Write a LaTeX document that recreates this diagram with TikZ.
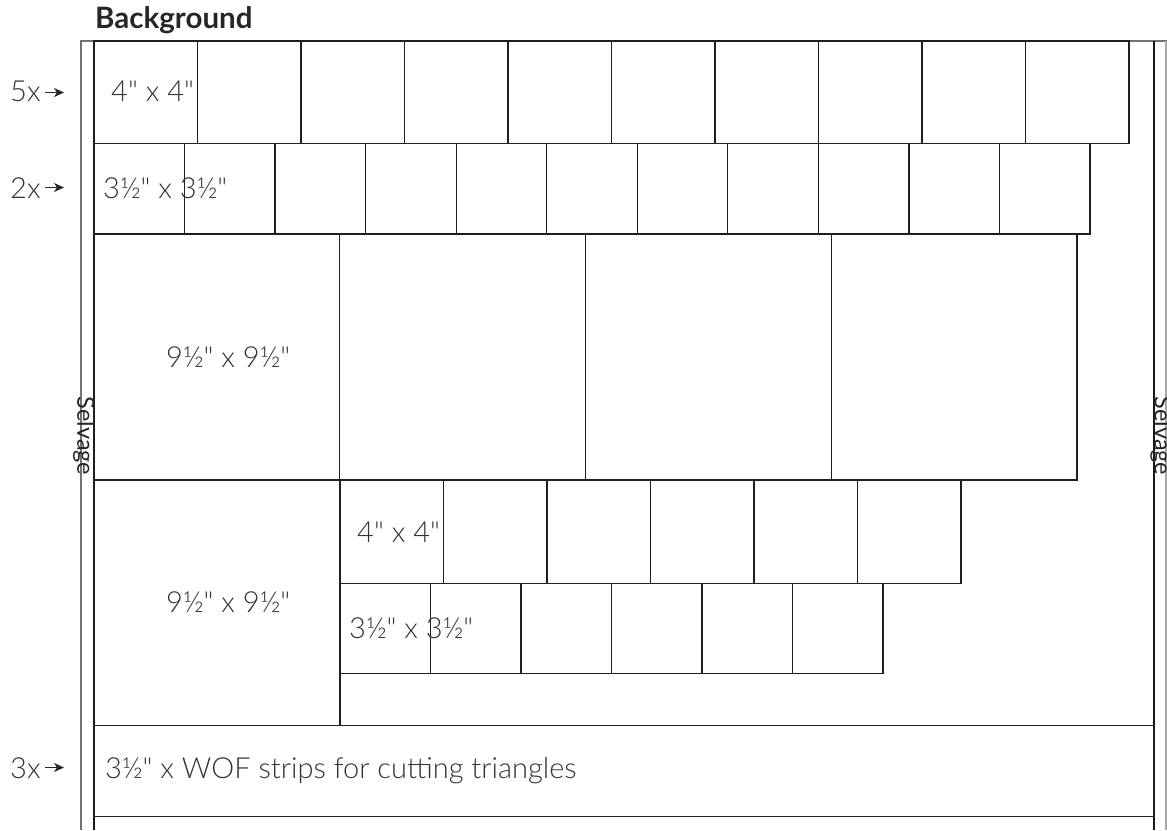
\documentclass[tikz,border=0pt]{standalone}
\usepackage{fontspec}
\setmainfont{Lato}[Ligatures=TeXOff,UprightFont={* Light},BoldFont={* Bold}]
\newfontfamily\latoreg{Lato}[Ligatures=TeXOff]
\usetikzlibrary{arrows.meta}
\tikzset{
  sq/.style={draw=black!88,line width=1.2pt},
  frame/.style={draw=black!55,line width=1.4pt},
  frameinner/.style={draw=black!90,line width=1.4pt},
  lbl/.style={anchor=base west,inner sep=0pt,text=black!80,font=\fontsize{29}{33}\selectfont},
  cnt/.style={anchor=base west,inner sep=0pt,text=black!80,font=\fontsize{29}{33}\selectfont},
  selv/.style={rotate=-90,inner sep=0pt,text=black!85,font=\latoreg\fontsize{23.5}{27}\selectfont},
  ttl/.style={anchor=base west,inner sep=0pt,text=black!85,font=\bfseries\fontsize{29.5}{33}\selectfont},
  arrowmark/.style={-{Stealth[length=10pt,width=9pt,inset=3pt]},line width=1.6pt,draw=black!85}
}
\begin{document}
\begin{tikzpicture}[x=1pt,y=-1pt]
\useasboundingbox (0,0) rectangle (1167,830);
% frame
\draw[frame] (81,830) -- (81,41) -- (1167,41);
\draw[frameinner] (94,41) -- (94,830);
\draw[frameinner] (1154,41) -- (1154,830);
\draw[draw=black!35,line width=1.4pt] (1166,41) -- (1166,830);
% row 1: 4x4
\foreach \i in {0,...,9} \draw[sq] ({94+\i*103.5},41) rectangle ++(103.5,102.5);
% row 2: 3.5x3.5
\foreach \i in {0,...,10} \draw[sq] ({94+\i*90.545},143.5) rectangle ++(90.545,90.5);
% row 3: 9.5x9.5
\foreach \i in {0,...,3} \draw[sq] ({94+\i*245.75},234) rectangle ++(245.75,246);
% row 4
\draw[sq] (94,480) rectangle (340,725.5);
\foreach \i in {0,...,5} \draw[sq] ({340+\i*103.5},480) rectangle ++(103.5,103.5);
\foreach \i in {0,...,5} \draw[sq] ({340+\i*90.5},583.5) rectangle ++(90.5,90);
% strip
\draw[sq] (94,725.5) rectangle (1154,816.5);
% labels
\node[ttl] (title) at (95,28) {Background};
\node[lbl] (n5) at (10,101) {5x};
\coordinate (a5) at (64,92.5);
\draw[arrowmark] (n5.east |- a5) ++(4,0) -- (a5);
\node[lbl] (n2) at (10,198) {2x};
\coordinate (a2) at (64,187.5);
\draw[arrowmark] (n2.east |- a2) ++(4,0) -- (a2);
\node[lbl] (n3) at (10,778) {3x};
\coordinate (a3) at (64,767.5);
\draw[arrowmark] (n3.east |- a3) ++(4,0) -- (a3);
\node[cnt] (t1) at (111,101) {4" x 4"};
\node[cnt] (t2) at (103,198) {3½" x 3½"};
\node[cnt] (t3) at (166,367) {9½" x 9½"};
\node[cnt] (t4) at (166,612) {9½" x 9½"};
\node[cnt] (t5) at (357,542) {4" x 4"};
\node[cnt] (t6) at (349,638) {3½" x 3½"};
\node[cnt] (t7) at (105,778) {3½" x WOF strips for cutting triangles};
\node[selv] (s1) at (84,436) {Selvage};
\node[selv] (s2) at (1161,436) {Selvage};
\end{tikzpicture}
\end{document}
